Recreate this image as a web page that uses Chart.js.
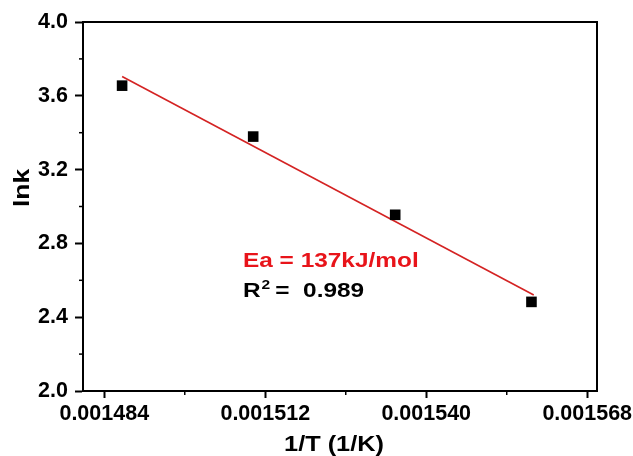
<!DOCTYPE html>
<html><head><meta charset="utf-8">
<script src="https://cdn.jsdelivr.net/npm/chart.js@4/dist/chart.umd.min.js"></script>
<style>html,body{margin:0;padding:0;background:#fff;}#wrap{width:633px;height:456px;position:relative;}</style>
</head><body><div id="wrap"><canvas id="c" width="633" height="456"></canvas></div>
<script>
// ---- data ----
const invT = [0.0014871, 0.0015099, 0.0015346, 0.0015583];
const lnk  = [3.655, 3.379, 2.955, 2.483];
const fitX = [0.0014871, 0.0015587];
const fitY = [3.705, 2.520];
const xTicks = [0.001484, 0.001512, 0.001540, 0.001568];
const xMinor = [0.001498, 0.001526, 0.001554];
const yTicks = [2.0, 2.4, 2.8, 3.2, 3.6, 4.0];
const yMinor = [2.2, 2.6, 3.0, 3.4, 3.8];
const xRange = [0.0014803, 0.0015697];
const yRange = [2.0, 4.0];
const xTitle = '1/T (1/K)';
const yTitle = 'lnk';
const eaText = 'Ea = 137kJ/mol';
const r2Value = '0.989';

const FONT = '"Liberation Sans", Arial, sans-serif';

function stretched(ctx, text, x, y, sx) {
  ctx.save(); ctx.translate(x, y); ctx.scale(sx, 1); ctx.fillText(text, 0, 0); ctx.restore();
  return ctx.measureText(text).width * sx;
}

const deco = {
  id: 'deco',
  afterDraw(chart) {
    const {ctx, chartArea: a, scales: {x, y}} = chart;
    ctx.save();
    ctx.strokeStyle = '#000';
    ctx.lineWidth = 2;
    ctx.strokeRect(a.left, a.top, a.right - a.left, a.bottom - a.top);
    ctx.lineWidth = 1.5;
    yMinor.forEach(v => { const p = y.getPixelForValue(v); ctx.beginPath(); ctx.moveTo(a.left - 4, p); ctx.lineTo(a.left, p); ctx.stroke(); });
    xMinor.forEach(v => { const p = x.getPixelForValue(v); ctx.beginPath(); ctx.moveTo(p, a.bottom); ctx.lineTo(p, a.bottom + 4); ctx.stroke(); });

    // annotations
    ctx.textBaseline = 'alphabetic';
    ctx.textAlign = 'left';
    ctx.fillStyle = '#e8141a';
    ctx.font = 'bold 20px ' + FONT;
    stretched(ctx, eaText, 243, 267, 1.22);

    ctx.fillStyle = '#000';
    let cx = 243;
    cx += stretched(ctx, 'R', cx, 297, 1.22);
    ctx.font = 'bold 13px ' + FONT;
    cx += 1;
    cx += stretched(ctx, '2', cx, 289, 1.2);
    ctx.font = 'bold 20px ' + FONT;
    cx += 5;
    stretched(ctx, '=  ' + r2Value, cx, 297, 1.22);

    // axis titles
    ctx.font = 'bold 22px ' + FONT;
    ctx.textAlign = 'center';
    ctx.fillStyle = '#000';
    stretched(ctx, xTitle, 334, 451, 1.15);

    ctx.save();
    ctx.translate(29, 188);
    ctx.rotate(-Math.PI / 2);
    ctx.scale(1.2, 1);
    ctx.textAlign = 'center';
    ctx.textBaseline = 'alphabetic';
    ctx.fillText(yTitle, 0, 0);
    ctx.restore();
    ctx.restore();
  }
};

new Chart(document.getElementById('c'), {
  type: 'scatter',
  data: {
    datasets: [
      {
        data: invT.map((v, i) => ({x: v, y: lnk[i]})),
        pointStyle: 'rect', pointRadius: 7.5, pointHoverRadius: 7.5,
        backgroundColor: '#000', borderColor: '#000', borderWidth: 0,
        showLine: false, order: 1
      },
      {
        type: 'line',
        data: fitX.map((v, i) => ({x: v, y: fitY[i]})),
        borderColor: '#d42323', borderWidth: 1.6, pointRadius: 0,
        fill: false, tension: 0, order: 2
      }
    ]
  },
  options: {
    responsive: false, animation: false,
    layout: {padding: {top: 22, right: 36, left: 0, bottom: 0}},
    plugins: {legend: {display: false}, tooltip: {enabled: false}},
    scales: {
      x: {
        type: 'linear', min: xRange[0], max: xRange[1],
        afterBuildTicks: s => { s.ticks = xTicks.map(v => ({value: v})); },
        afterFit: s => { s.height = 65; s.paddingLeft = 0; s.paddingRight = 0; },
        ticks: {callback: v => v.toFixed(6), font: {family: FONT, size: 21.5, weight: 'bold'}, color: '#000', padding: 3, maxRotation: 0, autoSkip: false},
        grid: {drawOnChartArea: false, tickLength: 7, tickWidth: 2, color: '#000'},
        border: {width: 2, color: '#000'},
        title: {display: false}
      },
      y: {
        min: yRange[0], max: yRange[1],
        afterBuildTicks: s => { s.ticks = yTicks.map(v => ({value: v})); },
        afterFit: s => { s.width = 83; s.paddingTop = 0; s.paddingBottom = 0; },
        ticks: {callback: v => v.toFixed(1), font: {family: FONT, size: 21.5, weight: 'bold'}, color: '#000', padding: 7},
        grid: {drawOnChartArea: false, tickLength: 8, tickWidth: 2, color: '#000'},
        border: {width: 2, color: '#000'},
        title: {display: false}
      }
    }
  },
  plugins: [deco]
});
</script>
</body></html>
